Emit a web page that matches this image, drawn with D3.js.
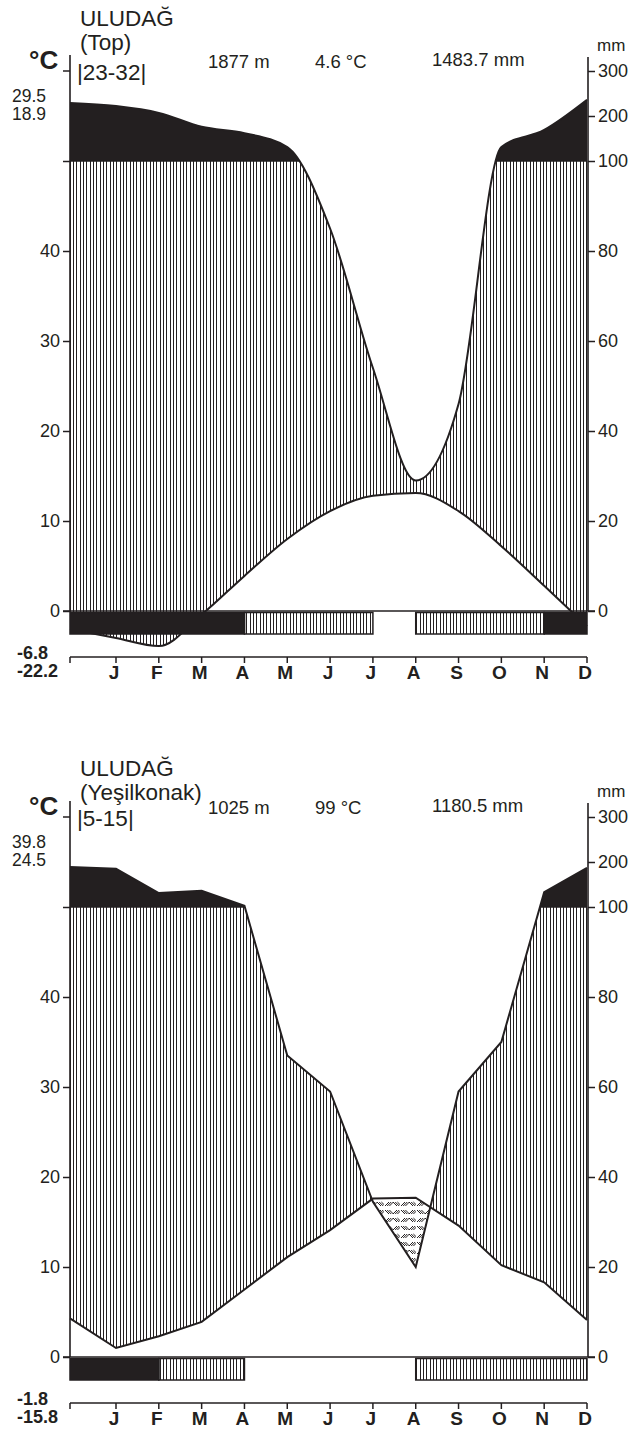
<!DOCTYPE html>
<html><head><meta charset="utf-8">
<script src="https://cdn.jsdelivr.net/npm/d3@7"></script>
<style>
body{margin:0;background:#fff}
svg{display:block}
text{font-family:"Liberation Sans",Arial,Helvetica,sans-serif;fill:#231f20}
</style>
</head><body>
<svg id="c" width="630" height="1432"></svg>
<script>
// ---- data (index 0 = left edge of diagram, 1..12 = months J..D) ----
const months = ["J","F","M","A","M","J","J","A","S","O","N","D"];
const tempTicks = [0,10,20,30,40];
const precipTicks = [0,20,40,60,80,100,200,300];

const topName = ["ULUDAĞ","(Top)"];
const topYears = "|23-32|";
const topInfo = ["1877 m","4.6 °C","1483.7 mm"];
const topExtremesHigh = ["29.5","18.9"];
const topExtremesLow = ["-6.8","-22.2"];
const topPrecip = [229,222,207,176,162,131,85,54,29,46,131,169,236];
const topTemp = [-2.0,-3.0,-3.9,-0.4,3.9,8.0,11.1,12.8,13.1,11.1,7.2,2.8,-1.7];
const topFrost = ["b","b","b","b","h","h","h","n","h","h","h","b"];

const yesName = ["ULUDAĞ","(Yeşilkonak)"];
const yesYears = "|5-15|";
const yesInfo = ["1025 m","99 °C","1180.5 mm"];
const yesExtremesHigh = ["39.8","24.5"];
const yesExtremesLow = ["-1.8","-15.8"];
const yesPrecip = [189,185,131,136,103,67,59,34.5,20,59,70,133,187];
const yesTemp = [4.3,1.0,2.3,3.9,7.5,11.1,14.1,17.6,17.7,14.6,10.2,8.3,4.1];
const yesFrost = ["b","b","h","h","n","n","n","n","h","h","h","h"];

const INK = "#231f20";
const svg = d3.select("#c");
const defs = svg.append("defs");

// vertical hatch (crisp 1px lines, mean spacing ~3.3px)
const ph = defs.append("pattern").attr("id","vhatch").attr("patternUnits","userSpaceOnUse")
  .attr("width",10).attr("height",10);
[0.5,3.5,6.5].forEach(px=>{
  ph.append("line").attr("x1",px).attr("x2",px).attr("y1",0).attr("y2",10)
    .attr("stroke",INK).attr("stroke-width",1).attr("shape-rendering","crispEdges");
});

// dry-period pattern (short diagonal strokes)
const pd = defs.append("pattern").attr("id","dry").attr("patternUnits","userSpaceOnUse")
  .attr("width",16).attr("height",16);
function group(ox,oy,dir){
  for(let k=0;k<3;k++){
    const o=k*2.2;
    if(dir>0) pd.append("line").attr("x1",ox+1+o).attr("y1",oy+6).attr("x2",ox+5+o).attr("y2",oy+2);
    else pd.append("line").attr("x1",ox+1+o).attr("y1",oy+2).attr("x2",ox+5+o).attr("y2",oy+6);
  }
}
group(0,0,1); group(8,8,1); group(8,0,-1); group(0,8,-1);
pd.selectAll("line").attr("stroke",INK).attr("stroke-width",1);

function draw(id, cfg){
  const y0 = cfg.y0;
  const g = svg.append("g");
  const x = d3.scaleLinear().domain([0,1,12]).range([70,116,587]);
  const yT = d3.scaleLinear().domain([0,50]).range([y0, y0-450]);
  const yP = d3.scaleLinear().domain([0,100,300]).range([y0, y0-450, y0-540]);
  const y100 = yP(100);
  const curve = cfg.smooth ? d3.curveMonotoneX : d3.curveLinear;
  const idx = d3.range(13);
  const topY = y0-600, botY = y0+120;
  const P = i=>yP(cfg.precip[i]), T = i=>yT(cfg.temp[i]);

  // clip paths
  defs.append("clipPath").attr("id",id+"belowP").append("path")
    .attr("d", d3.area().x(i=>x(i)).y0(botY).y1(P).curve(curve)(idx));
  defs.append("clipPath").attr("id",id+"aboveP").append("path")
    .attr("d", d3.area().x(i=>x(i)).y0(P).y1(topY).curve(curve)(idx));
  defs.append("clipPath").attr("id",id+"above100").append("rect")
    .attr("x",x(0)).attr("y",topY).attr("width",x(12)-x(0)).attr("height",y100-topY);

  // humid (hatched) area
  g.append("path").attr("d", d3.area().x(i=>x(i)).y0(T).y1(y100).curve(curve)(idx))
    .attr("fill","url(#vhatch)").attr("clip-path","url(#"+id+"belowP)");
  // dry area
  g.append("path").attr("d", d3.area().x(i=>x(i)).y0(botY).y1(T).curve(curve)(idx))
    .attr("fill","url(#dry)").attr("clip-path","url(#"+id+"aboveP)");
  // very humid (black) area
  g.append("path").attr("d", d3.area().x(i=>x(i)).y0(y100).y1(P).curve(curve)(idx))
    .attr("fill",INK).attr("clip-path","url(#"+id+"above100)");

  // lines
  g.append("path").attr("d", d3.line().x(i=>x(i)).y(P).curve(curve)(idx))
    .attr("fill","none").attr("stroke",INK).attr("stroke-width",2).attr("stroke-linejoin","miter");
  g.append("path").attr("d", d3.line().x(i=>x(i)).y(T).curve(curve)(idx))
    .attr("fill","none").attr("stroke",INK).attr("stroke-width",2);
  // boundary at 100 mm where precipitation exceeds 100
  g.append("line").attr("x1",x(0)).attr("x2",x(12)).attr("y1",y100).attr("y2",y100)
    .attr("stroke",INK).attr("stroke-width",1.5).attr("clip-path","url(#"+id+"belowP)");

  // frost bars
  const runs=[];
  cfg.frost.forEach((t,i)=>{
    if(runs.length && runs[runs.length-1].t===t) runs[runs.length-1].e=i+1;
    else runs.push({t:t,s:i,e:i+1});
  });
  runs.filter(r=>r.t!=="n").forEach(r=>{
    g.append("rect").attr("x",x(r.s)).attr("y",y0+1.5).attr("width",x(r.e)-x(r.s)).attr("height",21.5)
      .attr("fill", r.t==="b"?INK:"url(#vhatch)")
      .attr("stroke",INK).attr("stroke-width",1.5);
  });

  // zero line
  g.append("line").attr("x1",63).attr("x2",595).attr("y1",y0).attr("y2",y0)
    .attr("stroke",INK).attr("stroke-width",1.6);

  // left axis
  g.append("line").attr("x1",70).attr("x2",70).attr("y1",y0-556).attr("y2",y0)
    .attr("stroke",INK).attr("stroke-width",1.6);
  const la = g.append("g").attr("transform","translate(70,0)")
    .call(d3.axisLeft(yT).tickValues(tempTicks.concat([50])).tickSize(7).tickPadding(3)
      .tickFormat(d=>d===50?"":d));
  la.select(".domain").remove();
  la.selectAll("line").attr("stroke",INK).attr("stroke-width",1.5);
  la.selectAll("text").attr("font-size",18).attr("font-family",null).attr("fill",INK);
  g.append("line").attr("x1",63).attr("x2",70).attr("y1",yP(300)).attr("y2",yP(300))
    .attr("stroke",INK).attr("stroke-width",1.5);

  // right axis
  g.append("line").attr("x1",588).attr("x2",588).attr("y1",y0-554).attr("y2",y0)
    .attr("stroke",INK).attr("stroke-width",1.6);
  const ra = g.append("g").attr("transform","translate(588,0)")
    .call(d3.axisRight(yP).tickValues(precipTicks).tickSize(7).tickPadding(3));
  ra.select(".domain").remove();
  ra.selectAll("line").attr("stroke",INK).attr("stroke-width",1.5);
  ra.selectAll("text").attr("font-size",18).attr("font-family",null).attr("fill",INK);

  // month axis
  const my = y0+46;
  g.append("line").attr("x1",x(0)).attr("x2",x(12)).attr("y1",my).attr("y2",my)
    .attr("stroke",INK).attr("stroke-width",1.5);
  g.selectAll(null).data(idx).enter().append("line")
    .attr("x1",i=>x(i)).attr("x2",i=>x(i)).attr("y1",my).attr("y2",my+6)
    .attr("stroke",INK).attr("stroke-width",1.5);
  g.selectAll(null).data(months).enter().append("text")
    .attr("x",(d,i)=>x(i+1)-2).attr("y",y0+68).attr("text-anchor","middle")
    .attr("font-size",19).attr("font-weight","bold").text(d=>d);

  // header texts
  const td = cfg.titleDy;
  g.append("text").attr("x",80).attr("y",y0-585+td).attr("font-size",22.5).text(cfg.name[0]);
  g.append("text").attr("x",80).attr("y",y0-561+td).attr("font-size",22.5).text(cfg.name[1]);
  g.append("text").attr("x",77).attr("y",y0-531).attr("font-size",22.5).text(cfg.years);
  g.append("text").attr("x",29).attr("y",y0-542).attr("font-size",26).attr("font-weight","bold").text("°C");
  g.append("text").attr("x",208).attr("y",y0-543).attr("font-size",18.5).text(cfg.info[0]);
  g.append("text").attr("x",315).attr("y",y0-543).attr("font-size",18.5).text(cfg.info[1]);
  g.append("text").attr("x",432).attr("y",y0-545).attr("font-size",18.5).text(cfg.info[2]);
  g.append("text").attr("x",597).attr("y",y0-560).attr("font-size",17).text("mm");
  g.append("text").attr("x",12).attr("y",y0-509).attr("font-size",17.5).text(cfg.hi[0]);
  g.append("text").attr("x",12).attr("y",y0-491).attr("font-size",17.5).text(cfg.hi[1]);
  g.append("text").attr("x",17).attr("y",y0+48).attr("font-size",18).attr("font-weight","bold").text(cfg.lo[0]);
  g.append("text").attr("x",17).attr("y",y0+66).attr("font-size",18).attr("font-weight","bold").text(cfg.lo[1]);
}

draw("top",{y0:611, smooth:true, precip:topPrecip, temp:topTemp, frost:topFrost,
  name:topName, years:topYears, info:topInfo, hi:topExtremesHigh, lo:topExtremesLow, titleDy:0});
draw("yes",{y0:1357, smooth:false, precip:yesPrecip, temp:yesTemp, frost:yesFrost,
  name:yesName, years:yesYears, info:yesInfo, hi:yesExtremesHigh, lo:yesExtremesLow, titleDy:4});
</script>
</body></html>
